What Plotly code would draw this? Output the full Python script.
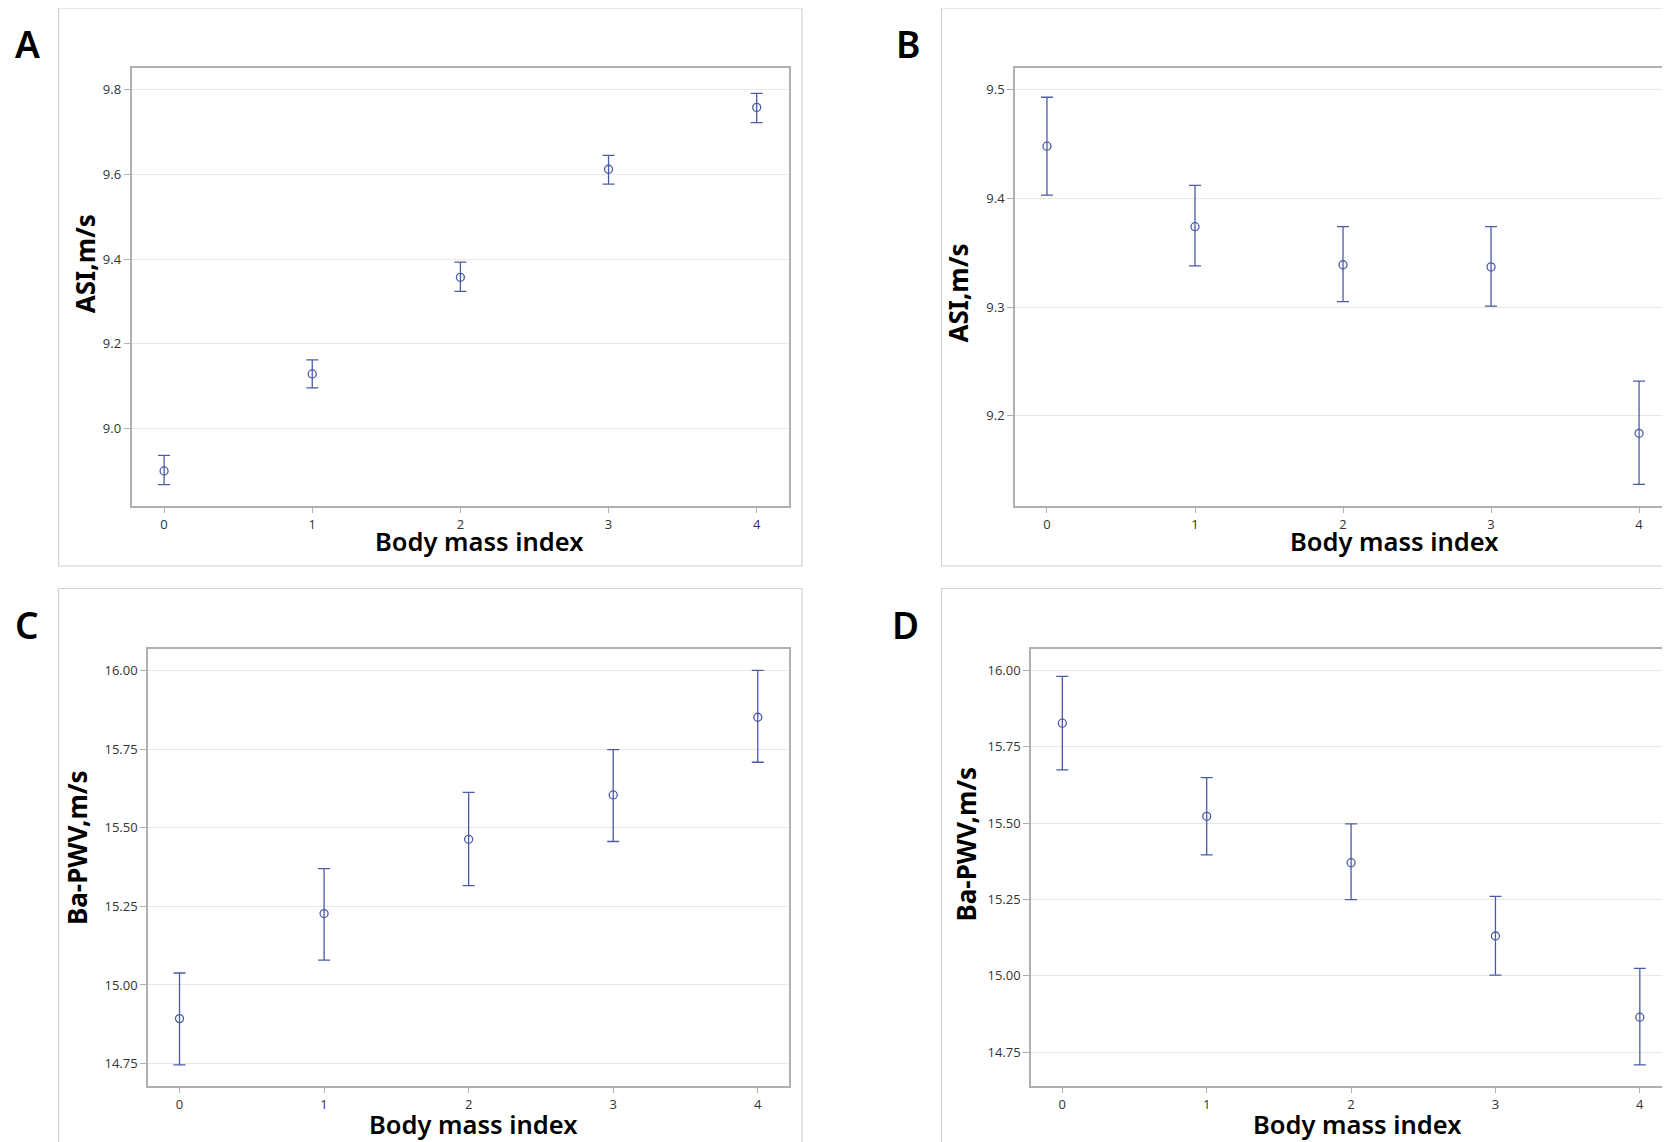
import plotly.graph_objects as go

W, H = 1670, 1142
OFF = 8  # default page body margin; compensate so marks land at reference pixels

bmi = [0, 1, 2, 3, 4]
x_ticks = ["0", "1", "2", "3", "4"]

A_mean = [8.900, 9.129, 9.357, 9.612, 9.758]
A_upper = [8.937, 9.162, 9.393, 9.645, 9.791]
A_lower = [8.868, 9.096, 9.324, 9.577, 9.722]

B_mean = [9.448, 9.374, 9.339, 9.337, 9.184]
B_upper = [9.493, 9.412, 9.374, 9.374, 9.232]
B_lower = [9.403, 9.338, 9.305, 9.301, 9.137]

C_mean = [14.893, 15.227, 15.463, 15.604, 15.851]
C_upper = [15.038, 15.370, 15.612, 15.748, 16.000]
C_lower = [14.746, 15.079, 15.316, 15.456, 15.708]

D_mean = [15.827, 15.522, 15.370, 15.130, 14.864]
D_upper = [15.980, 15.649, 15.497, 15.260, 15.024]
D_lower = [15.674, 15.396, 15.249, 15.002, 14.708]

A_yticks = [9.0, 9.2, 9.4, 9.6, 9.8]
B_yticks = [9.2, 9.3, 9.4, 9.5]
CD_yticks = [14.75, 15.00, 15.25, 15.50, 15.75, 16.00]

y_title_asi = "ASI,m/s"
y_title_pwv = "Ba-PWV,m/s"
x_title = "Body mass index"
panel_letters = ["A", "B", "C", "D"]

COLOR = "#4b5ba6"


def px(x):
    return (x - OFF) / W


def py(y):
    return 1 - (y - OFF) / H


panels = [
    dict(mean=A_mean, up=A_upper, lo=A_lower, box=(131.5, 789, 68, 505.5),
         yr=[8.8185, 9.851], xr=[-0.22, 4.218], ticks=A_yticks, fmt=".1f", full=True),
    dict(mean=B_mean, up=B_upper, lo=B_lower, box=(1015, 1670, 68, 505.5),
         yr=[9.1176, 9.5199], xr=[-0.216, 4.209], ticks=B_yticks, fmt=".1f", full=False),
    dict(mean=C_mean, up=C_upper, lo=C_lower, box=(148, 789, 649.3, 1085.6),
         yr=[14.680, 16.067], xr=[-0.218, 4.216], ticks=CD_yticks, fmt=".2f", full=True),
    dict(mean=D_mean, up=D_upper, lo=D_lower, box=(1031, 1670, 649.3, 1085.6),
         yr=[14.640, 16.069], xr=[-0.217, 4.209], ticks=CD_yticks, fmt=".2f", full=False),
]

fig = go.Figure()
layout = dict(
    width=W, height=H, margin=dict(l=0, r=0, t=0, b=0),
    paper_bgcolor="white", plot_bgcolor="white", showlegend=False,
    font=dict(family="Open Sans", color="#333333"),
)

for i, p in enumerate(panels):
    n = "" if i == 0 else str(i + 1)
    x0, x1, yt, yb = p["box"]
    eplus = [u - m for u, m in zip(p["up"], p["mean"])]
    eminus = [m - l for m, l in zip(p["mean"], p["lo"])]
    fig.add_trace(go.Scatter(
        x=bmi, y=p["mean"], mode="markers",
        xaxis="x" + n, yaxis="y" + n,
        marker=dict(symbol="circle-open", size=8, color=COLOR, line=dict(width=1.3, color=COLOR)),
        error_y=dict(type="data", symmetric=False, array=eplus, arrayminus=eminus,
                     color=COLOR, thickness=1.3, width=6),
        cliponaxis=False,
    ))
    layout["xaxis" + n] = dict(
        domain=[px(x0), min(1.0, px(x1))], range=p["xr"], anchor="y" + n,
        tickvals=bmi, ticktext=x_ticks, ticks="outside", ticklen=6, tickcolor="#b0b0b0",
        showline=True, linecolor="#b0b0b0", linewidth=1.5, mirror=True,
        showgrid=False, zeroline=False, tickfont=dict(size=13, color="#333333"),
    )
    layout["yaxis" + n] = dict(
        domain=[max(0.0, py(yb)), py(yt)], range=p["yr"], anchor="x" + n,
        tickvals=p["ticks"], tickformat=p["fmt"], ticks="outside", ticklen=6, tickcolor="#b0b0b0",
        showline=True, linecolor="#b0b0b0", linewidth=1.5, mirror=p["full"],
        showgrid=True, gridcolor="#e8e8e8", gridwidth=1, zeroline=False,
        tickfont=dict(size=13, color="#333333"),
    )

# outer panel frames
frames = [(58.6, 802, 8, 566), (941.5, 1700, 8, 566), (58.6, 802, 588.5, 1170), (941.5, 1700, 588.5, 1170)]
shapes = []
for (a, b, c, d) in frames:
    shapes.append(dict(type="rect", xref="paper", yref="paper", x0=px(a), x1=px(b), y0=py(d), y1=py(c),
                       line=dict(color="#d2d2d2", width=1.2), fillcolor="rgba(0,0,0,0)", layer="below"))
layout["shapes"] = shapes

annotations = []
for letter, (lx, ly) in zip(panel_letters, [(27, 44), (908, 44), (27, 624.5), (905, 624.5)]):
    annotations.append(dict(text=letter, x=px(lx), y=py(ly), xref="paper", yref="paper",
                            showarrow=False, xanchor="center", yanchor="middle",
                            font=dict(family="Noto Sans", size=37, color="black", weight=600)))
for (tx, ty) in [(479, 541), (1394, 541), (473.4, 1124), (1357, 1124)]:
    annotations.append(dict(text=x_title, x=px(tx), y=py(ty), xref="paper", yref="paper",
                            showarrow=False, xanchor="center", yanchor="middle",
                            font=dict(family="Noto Sans", size=25.5, color="black", weight=600)))
for t, (tx, ty) in zip([y_title_asi, y_title_asi, y_title_pwv, y_title_pwv],
                       [(85.2, 264), (957.5, 293), (77.2, 847.8), (965.5, 844)]):
    annotations.append(dict(text=t, x=px(tx), y=py(ty), xref="paper", yref="paper",
                            showarrow=False, xanchor="center", yanchor="middle", textangle=-90,
                            font=dict(family="Noto Sans", size=26, color="black", weight="bold")))
layout["annotations"] = annotations

fig.update_layout(**layout)
fig.write_html("out.html")
